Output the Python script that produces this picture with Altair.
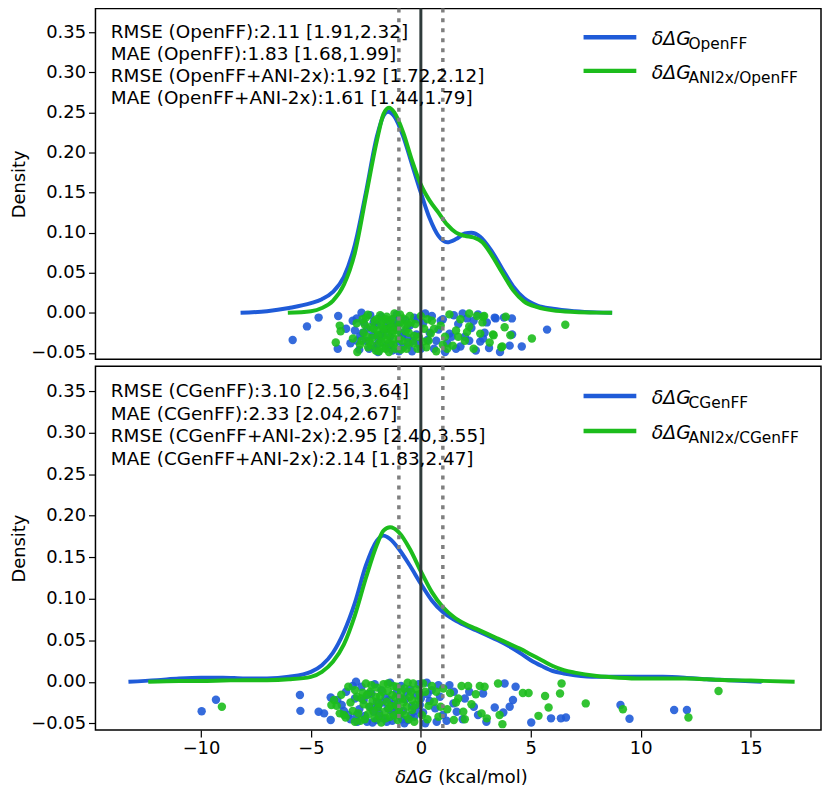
import altair as alt
import pandas as pd

BLUE = "#1447d6"
GREEN = "#14b814"
PT_BLUE = "#1f5bd8"
PT_GREEN = "#1cbc1c"
FONT = "DejaVu Sans"
X_DOMAIN = [-14.8, 18.2]
Y_DOMAIN = [-0.058, 0.38]

# ---------------- top panel (OpenFF) ----------------
top_ff_x = [-8.2, -7.0, -6.0, -5.0, -4.5, -4.0, -3.5, -3.0, -2.5, -2.0, -1.7, -1.5, -1.2, -0.8, -0.4, 0.0,
            0.4, 0.8, 1.2, 1.6, 2.0, 2.3, 2.7, 3.2, 3.7, 4.2, 4.7, 5.3, 6.0, 7.0, 8.0, 8.7]
top_ff_y = [0.0, 0.002, 0.006, 0.012, 0.017, 0.026, 0.045, 0.085, 0.15, 0.22, 0.246, 0.251, 0.245, 0.22, 0.185, 0.15,
            0.118, 0.096, 0.088, 0.092, 0.099, 0.10, 0.095, 0.078, 0.055, 0.033, 0.018, 0.009, 0.005, 0.002, 0.0005, 0.0]
top_ani_x = [-6.05, -5.0, -4.5, -4.0, -3.5, -3.0, -2.5, -2.0, -1.7, -1.45, -1.2, -0.8, -0.4, 0.0,
             0.4, 0.8, 1.2, 1.6, 2.0, 2.4, 2.8, 3.2, 3.7, 4.2, 4.7, 5.3, 6.0, 7.0, 8.0, 8.7]
top_ani_y = [0.0, 0.002, 0.006, 0.015, 0.035, 0.075, 0.145, 0.215, 0.248, 0.256, 0.25, 0.225, 0.19, 0.16,
             0.14, 0.125, 0.11, 0.10, 0.096, 0.094, 0.088, 0.073, 0.05, 0.028, 0.014, 0.007, 0.003, 0.001, 0.0002, 0.0]

top_ff_pts_x = [-5.83, -5.18, -4.65, -3.76, -3.78, -2.92, -2.76, -2.44, 3.36, 3.78, 4.14, 5.74, 4.04, 3.6, 4.59,
                2.83, 4.15, 3.4, -3.2, -3.0, -2.8, -2.6, -2.5, -2.3, -2.2, -2.1, -2.0, -1.9, -1.8, -1.7, -1.6,
                -1.5, -1.4, -1.3, -1.2, -1.1, -1.0, -0.9, -0.8, -0.7, -0.6, -0.5, -0.4, -0.3, -0.2, -0.1, 0.1,
                0.3, 0.5, 0.6, 0.8, 1.0, 1.2, 1.3, 1.5, 1.7, 1.8, 2.0, 2.1, 2.3, 2.5, 2.6, 2.7, 3.0, 3.1, -2.7,
                -1.95, -1.25, -0.55, 0.2, 1.1, 1.9,
                -3.4, -3.1, -2.9, -2.65, -2.35, -2.15, -1.85, -1.55, -1.35, -1.05, -0.85, -0.65, -0.35, -0.15,
                0.0, 0.4, 0.7, 0.9, 1.4, 1.6, 2.2, 2.4, 2.9, -2.0, -1.0]
top_ff_pts_y = [-0.034, -0.017, -0.006, -0.004, -0.045, -0.007, -0.029, -0.02, -0.006, -0.006, -0.007, -0.021,
                -0.041, -0.049, -0.042, -0.032, -0.027, -0.007, -0.038, -0.022, -0.046, -0.012, -0.035, -0.003,
                -0.028, -0.044, -0.015, -0.033, -0.005, -0.024, -0.041, -0.011, -0.030, -0.047, -0.018, -0.002,
                -0.036, -0.025, -0.043, -0.009, -0.031, -0.016, -0.048, -0.006, -0.027, -0.039, -0.013, -0.034,
                -0.004, -0.045, -0.021, -0.008, -0.038, -0.026, -0.003, -0.014, -0.042, -0.030, -0.007, -0.019,
                -0.047, -0.002, -0.036, -0.012, -0.044, -0.0, -0.049, -0.008, -0.040, -0.001, -0.049, -0.001,
                -0.020, -0.010, -0.035, -0.025, -0.045, -0.012, -0.028, -0.020, -0.040, -0.015, -0.030, -0.020,
                -0.035, -0.008, -0.045, -0.025, -0.035, -0.010, -0.030, -0.045, -0.035, -0.010, -0.025, -0.040,
                -0.048]
top_ani_pts_x = [-3.69, -3.65, -2.92, -3.09, -3.87, -2.77, -2.89, -2.41, 2.88, 3.81, 3.28, 4.07, 5.05, 6.57, 3.7,
                 3.86, 3.31, 3.13, 2.83, 3.66, -2.6, -2.5, -2.4, -2.3, -2.2, -2.1, -2.05, -2.0, -1.9, -1.85, -1.8,
                 -1.75, -1.7, -1.6, -1.55, -1.5, -1.45, -1.4, -1.3, -1.25, -1.2, -1.1, -1.0, -0.9, -0.8, -0.7, -0.6,
                 -0.45, -0.3, -0.15, 0.0, 0.15, 0.35, 0.5, 0.7, 0.9, 1.1, 1.3, 1.45, 1.6, 1.8, 2.0, 2.2, 2.4, 2.55,
                 2.7, -2.35, -1.65, -0.95, 0.25, 1.0, 2.2,
                 -2.55, -2.45, -2.25, -2.15, -2.0, -1.95, -1.8, -1.75, -1.7, -1.6, -1.55, -1.5, -1.45, -1.35,
                 -1.3, -1.2, -1.15, -1.05, -0.95, -0.85, -0.75, -0.65, -0.55, -0.5, -0.35, -0.25, -0.1, 0.1, 0.3,
                 0.45, -2.7, -2.65, -1.9, -1.25, -0.6, 0.6, 1.2, 1.7, 2.1, 2.8]
top_ani_pts_y = [-0.016, -0.023, -0.013, -0.032, -0.037, -0.040, -0.049, -0.0025, -0.004, -0.018, -0.027, -0.028,
                 -0.032, -0.015, -0.042, -0.005, -0.028, -0.037, -0.005, -0.043, -0.025, -0.006, -0.043, -0.018,
                 -0.031, -0.010, -0.047, -0.022, -0.038, -0.003, -0.015, -0.029, -0.044, -0.008, -0.034, -0.020,
                 -0.049, -0.012, -0.026, -0.040, -0.001, -0.017, -0.032, -0.046, -0.007, -0.023, -0.037, -0.012,
                 -0.029, -0.045, -0.004, -0.020, -0.035, -0.010, -0.048, -0.016, -0.030, -0.002, -0.041, -0.022,
                 -0.008, -0.035, -0.017, -0.045, -0.004, -0.026, -0.036, -0.020, -0.012, -0.043, -0.040, -0.001,
                 -0.015, -0.030, -0.040, -0.020, -0.008, -0.028, -0.036, -0.010, -0.020, -0.045, -0.005, -0.028,
                 -0.038, -0.018, -0.008, -0.033, -0.045, -0.022, -0.002, -0.035, -0.015, -0.045, -0.025, -0.004,
                 -0.038, -0.014, -0.030, -0.036, -0.008, -0.026, -0.035, -0.008, -0.048, -0.022, -0.014, -0.020,
                 -0.045, -0.030, -0.024, -0.012]

top_stats = ["RMSE (OpenFF):2.11 [1.91,2.32]",
             "MAE (OpenFF):1.83 [1.68,1.99]",
             "RMSE (OpenFF+ANI-2x):1.92 [1.72,2.12]",
             "MAE (OpenFF+ANI-2x):1.61 [1.44,1.79]"]
top_legend_sub = ["OpenFF", "ANI2x/OpenFF"]

# ---------------- bottom panel (CGenFF) ----------------
bot_ff_x = [-13.3, -12.0, -11.0, -10.0, -9.0, -8.0, -7.0, -6.0, -5.0, -4.5, -4.0, -3.5, -3.0, -2.5, -2.0, -1.7,
            -1.4, -1.0, -0.5, 0.0, 0.5, 1.0, 1.5, 2.0, 2.5, 3.0, 3.5, 4.0, 4.5, 5.0, 5.5, 6.0, 6.5, 7.0, 8.0,
            9.0, 10.0, 11.0, 12.0, 13.0, 14.0, 15.5]
bot_ff_y = [0.0, 0.002, 0.004, 0.005, 0.005, 0.004, 0.004, 0.006, 0.012, 0.02, 0.035, 0.06, 0.095, 0.14, 0.17,
            0.176, 0.172, 0.16, 0.14, 0.118, 0.098, 0.084, 0.075, 0.068, 0.062, 0.056, 0.05, 0.043, 0.035, 0.026,
            0.019, 0.013, 0.01, 0.008, 0.006, 0.006, 0.006, 0.006, 0.005, 0.003, 0.002, 0.0]
bot_ani_x = [-12.4, -11.0, -10.0, -9.0, -8.0, -7.0, -6.0, -5.0, -4.5, -4.0, -3.5, -3.0, -2.5, -2.0, -1.7, -1.4,
             -1.0, -0.5, 0.0, 0.5, 1.0, 1.5, 2.0, 2.5, 3.0, 3.5, 4.0, 4.5, 5.0, 5.5, 6.0, 6.5, 7.0, 8.0, 9.0,
             10.0, 11.0, 12.0, 13.0, 14.0, 15.0, 17.0]
bot_ani_y = [0.0, 0.001, 0.001, 0.0015, 0.002, 0.002, 0.003, 0.006, 0.012, 0.024, 0.045, 0.08, 0.125, 0.165,
             0.182, 0.186, 0.18, 0.16, 0.133, 0.108, 0.09, 0.078, 0.07, 0.064, 0.058, 0.052, 0.046, 0.04, 0.033,
             0.026, 0.019, 0.014, 0.011, 0.007, 0.005, 0.004, 0.004, 0.004, 0.003, 0.002, 0.0015, 0.0]

bot_ff_pts_x = [-9.97, -9.32, -5.5, -5.48, -4.65, -4.4, -4.1, -4.1, -3.3, -2.89, 6.6, 9.08, 9.49, 11.52, 12.1,
                3.81, 4.31, 4.19, 4.04, 5.02, 5.92, 6.37, 3.75, 2.98, 3.36, 2.41, 2.83, 1.48, 1.63, 1.17, 0.87,
                0.65, 0.72, 0.27, 0.2, -3.6, -3.4, -3.2, -3.0, -2.8, -2.7, -2.55, -2.4, -2.3, -2.2, -2.1, -2.0,
                -1.9, -1.8, -1.7, -1.6, -1.5, -1.4, -1.3, -1.2, -1.1, -1.0, -0.9, -0.8, -0.7, -0.6, -0.5, -0.4,
                -0.3, -0.2, -0.1, 0.1, 0.4, 0.5, 1.0, 1.3, 1.9, 2.2, 2.6, -3.8, -2.95, -2.15, -1.45, -0.75, -0.05,
                -3.5, -3.1, -2.9, -2.6, -2.45, -2.25, -1.95, -1.75, -1.55, -1.35, -1.15, -0.95, -0.65, -0.45,
                -0.25, 0.0, 0.3, 0.8, 1.5, 2.0, -2.0, -1.25, -0.85]
bot_ff_pts_y = [-0.0355, -0.0216, -0.016, -0.035, -0.036, -0.038, -0.046, -0.019, -0.040, -0.048, -0.043, -0.028,
                -0.0445, -0.034, -0.034, -0.002, -0.006, -0.022, -0.030, -0.049, -0.044, -0.044, -0.037, -0.048,
                -0.031, -0.030, -0.014, -0.026, -0.036, -0.047, -0.018, -0.032, -0.048, -0.001, -0.050, -0.028,
                -0.012, -0.045, -0.020, -0.033, -0.006, -0.041, -0.015, -0.030, -0.049, -0.003, -0.024, -0.038,
                -0.010, -0.044, -0.019, -0.032, -0.001, -0.047, -0.026, -0.013, -0.040, -0.005, -0.035, -0.021,
                -0.046, -0.009, -0.029, -0.042, -0.016, -0.003, -0.037, -0.023, -0.010, -0.040, -0.004, -0.045,
                -0.012, -0.040, -0.022, -0.0, -0.036, -0.022, -0.050, -0.028,
                -0.035, -0.005, -0.040, -0.022, -0.048, -0.014, -0.030, -0.025, -0.048, -0.035, -0.030, -0.020,
                -0.012, -0.040, -0.035, -0.020, -0.015, -0.004, -0.012, -0.020, -0.046, -0.040, -0.045]
bot_ani_pts_x = [-9.05, -3.62, -3.95, -4.07, -3.69, -3.42, -3.83, 6.4, 6.33, 7.5, 9.19, 12.17, 13.54, 3.51, 4.64,
                 4.9, 5.81, 5.65, 5.35, 3.71, 3.58, 2.76, 2.68, 2.9, 1.85, 2.15, 1.7, 1.93, 1.33, 1.02, 0.8, 0.35,
                 -3.3, -3.1, -2.9, -2.75, -2.6, -2.5, -2.4, -2.3, -2.2, -2.1, -2.0, -1.95, -1.85, -1.8, -1.7,
                 -1.65, -1.55, -1.5, -1.4, -1.35, -1.25, -1.15, -1.05, -1.0, -0.9, -0.8, -0.7, -0.6, -0.5, -0.4,
                 -0.3, -0.2, -0.1, 0.05, 0.2, 0.5, 0.6, 1.2, 1.5, 2.3, 2.5, 3.0, -2.65, -1.9, -1.1, -0.35,
                 -3.2, -3.0, -2.85, -2.7, -2.55, -2.45, -2.35, -2.25, -2.15, -2.05, -1.9, -1.75, -1.6, -1.45,
                 -1.3, -1.2, -1.1, -0.95, -0.85, -0.75, -0.65, -0.55, -0.45, -0.25, -0.05, 0.1, 0.3, 0.7, 0.9,
                 1.6, 2.0, -3.5, -3.0, -1.5, -0.4]
bot_ani_pts_y = [-0.030, -0.0155, -0.022, -0.028, -0.038, -0.043, -0.029, -0.002, -0.014, -0.026, -0.033, -0.043,
                 -0.011, -0.002, -0.0135, -0.0135, -0.031, -0.017, -0.041, -0.051, -0.040, -0.038, -0.005, -0.006,
                 -0.005, -0.005, -0.020, -0.036, -0.0135, -0.008, -0.042, -0.029, -0.006, -0.035, -0.018, -0.047,
                 -0.027, -0.002, -0.039, -0.012, -0.023, -0.044, -0.007, -0.031, -0.017, -0.049, -0.003, -0.036,
                 -0.024, -0.011, -0.042, -0.029, -0.005, -0.019, -0.046, -0.033, -0.013, -0.025, -0.040, -0.001,
                 -0.018, -0.034, -0.048, -0.009, -0.022, -0.040, -0.012, -0.005, -0.024, -0.033, -0.046, -0.027,
                 -0.015, -0.044, -0.013, -0.041, -0.028, -0.002,
                 -0.025, -0.010, -0.038, -0.020, -0.045, -0.016, -0.030, -0.004, -0.035, -0.018, -0.026, -0.012,
                 -0.044, -0.032, -0.016, -0.040, -0.006, -0.038, -0.020, -0.008, -0.030, -0.045, -0.012, -0.028,
                 -0.015, -0.002, -0.045, -0.012, -0.030, -0.025, -0.045, -0.040, -0.048, -0.002, -0.022]

bot_stats = ["RMSE (CGenFF):3.10 [2.56,3.64]",
             "MAE (CGenFF):2.33 [2.04,2.67]",
             "RMSE (CGenFF+ANI-2x):2.95 [2.40,3.55]",
             "MAE (CGenFF+ANI-2x):2.14 [1.83,2.47]"]
bot_legend_sub = ["CGenFF", "ANI2x/CGenFF"]

# x-axis title pieces (italic symbol + plain unit)
xtitle_symbol = "δΔG"
xtitle_unit = "(kcal/mol)"
xtitle_x = 0.52
xtitle_y = -0.116

# annotation / legend anchors (data coordinates)
stats_x = -14.1
stats_y = [0.350, 0.3228, 0.2956, 0.2684]
legend_x0, legend_x1, legend_xt = 7.4, 9.8, 10.5
legend_y = [0.344, 0.302]
dotted_x = [-1.0, 1.0]
zero_x = [0.0]

series_domain = ["ff", "ani"]
line_colors = alt.Scale(domain=series_domain, range=[BLUE, GREEN])
point_colors = alt.Scale(domain=series_domain, range=[PT_BLUE, PT_GREEN])
frame = alt.ViewBackground(stroke="black", strokeWidth=1.5)


def panel(ff_x, ff_y, ani_x, ani_y, ffp_x, ffp_y, anip_x, anip_y, stats, subs, height, bottom):
    xs = alt.Scale(domain=X_DOMAIN, nice=False, zero=False)
    ys = alt.Scale(domain=Y_DOMAIN, nice=False, zero=False)
    if bottom:
        xaxis = alt.Axis(values=[-10, -5, 0, 5, 10, 15], title=None, labelFontSize=18,
                         tickSize=7, tickWidth=1.2, labelPadding=3, domain=False, grid=False,
                         tickColor="black", labelColor="black", labelFont=FONT)
    else:
        xaxis = None
    yaxis = alt.Axis(values=[-0.05, 0.0, 0.05, 0.10, 0.15, 0.20, 0.25, 0.30, 0.35], format=".2f",
                     title="Density", labelFontSize=18, titleFontSize=18, titleFontWeight="normal",
                     tickSize=7, tickWidth=1.2, labelPadding=3, titlePadding=2, domain=False, grid=False,
                     tickColor="black", labelColor="black", titleColor="black", labelFont=FONT,
                     titleFont=FONT)

    def X(f):
        return alt.X(f, type="quantitative", scale=xs, axis=xaxis)

    def Y(f):
        return alt.Y(f, type="quantitative", scale=ys, axis=yaxis)

    col = alt.Color("s:N", scale=line_colors, legend=None)
    pcol = alt.Color("s:N", scale=point_colors, legend=None)

    pts = pd.concat([
        pd.DataFrame({"x": ffp_x, "y": ffp_y, "s": "ff"}),
        pd.DataFrame({"x": anip_x, "y": anip_y, "s": "ani"}),
    ], ignore_index=True)
    points = alt.Chart(pts).mark_circle(size=72, opacity=0.9).encode(x=X("x"), y=Y("y"), color=pcol)

    ff_line = alt.Chart(pd.DataFrame({"x": ff_x, "y": ff_y, "s": "ff"})).mark_line(
        strokeWidth=4, interpolate="monotone").encode(x=X("x"), y=Y("y"), color=col)
    ani_line = alt.Chart(pd.DataFrame({"x": ani_x, "y": ani_y, "s": "ani"})).mark_line(
        strokeWidth=4, interpolate="monotone").encode(x=X("x"), y=Y("y"), color=col)

    dots = alt.Chart(pd.DataFrame({"x": dotted_x})).mark_rule(
        color="#7f7f7f", strokeWidth=3.5, strokeDash=[4, 6]).encode(x=X("x"))
    zero = alt.Chart(pd.DataFrame({"x": zero_x})).mark_rule(
        color="#2f3b3b", strokeWidth=3).encode(x=X("x"))

    ann = alt.Chart(pd.DataFrame({"x": [stats_x] * 4, "y": stats_y, "t": stats})).mark_text(
        align="left", baseline="middle", fontSize=18.5, font=FONT, color="black").encode(
        x=X("x"), y=Y("y"), text="t:N")

    leg = pd.DataFrame({"x0": [legend_x0] * 2, "x1": [legend_x1] * 2, "xt": [legend_xt] * 2,
                        "y": legend_y, "s": series_domain, "main": ["δΔG", "δΔG"], "sub": subs})
    leg_rules = alt.Chart(leg).mark_rule(strokeWidth=4.5).encode(
        x=X("x0"), x2="x1", y=Y("y"), color=col)
    leg_main = alt.Chart(leg).mark_text(align="left", baseline="alphabetic", dy=8, fontSize=19,
                                        fontStyle="italic", font=FONT, color="black").encode(
        x=X("xt"), y=Y("y"), text="main:N")
    leg_sub = alt.Chart(leg).mark_text(align="left", baseline="alphabetic", dx=37, dy=12, fontSize=15.5,
                                       font=FONT, color="black").encode(
        x=X("xt"), y=Y("y"), text="sub:N")

    layers = [points, ff_line, ani_line, dots, zero, ann, leg_rules, leg_main, leg_sub]
    if bottom:
        tdf = pd.DataFrame({"x": [xtitle_x], "y": [xtitle_y], "a": [xtitle_symbol], "b": [xtitle_unit]})
        t_sym = alt.Chart(tdf).mark_text(align="right", baseline="middle", fontSize=18, fontStyle="italic",
                                         font=FONT, color="black").encode(x=X("x"), y=Y("y"), text="a:N")
        t_unit = alt.Chart(tdf).mark_text(align="left", baseline="middle", fontSize=18, dx=6,
                                          font=FONT, color="black").encode(x=X("x"), y=Y("y"), text="b:N")
        layers += [t_sym, t_unit]

    return alt.layer(*layers).properties(width=730, height=height, view=frame)


top = panel(top_ff_x, top_ff_y, top_ani_x, top_ani_y, top_ff_pts_x, top_ff_pts_y,
            top_ani_pts_x, top_ani_pts_y, top_stats, top_legend_sub, 353, False)
bottom = panel(bot_ff_x, bot_ff_y, bot_ani_x, bot_ani_y, bot_ff_pts_x, bot_ff_pts_y,
               bot_ani_pts_x, bot_ani_pts_y, bot_stats, bot_legend_sub, 366, True)

chart = alt.vconcat(top, bottom, spacing=0).properties(
    padding={"left": 2, "top": -5, "right": 0, "bottom": 0}).configure_view(
    stroke="black", strokeWidth=1.5).configure(background="white")

chart.save("out.html", embed_options={"renderer": "svg", "actions": False})
